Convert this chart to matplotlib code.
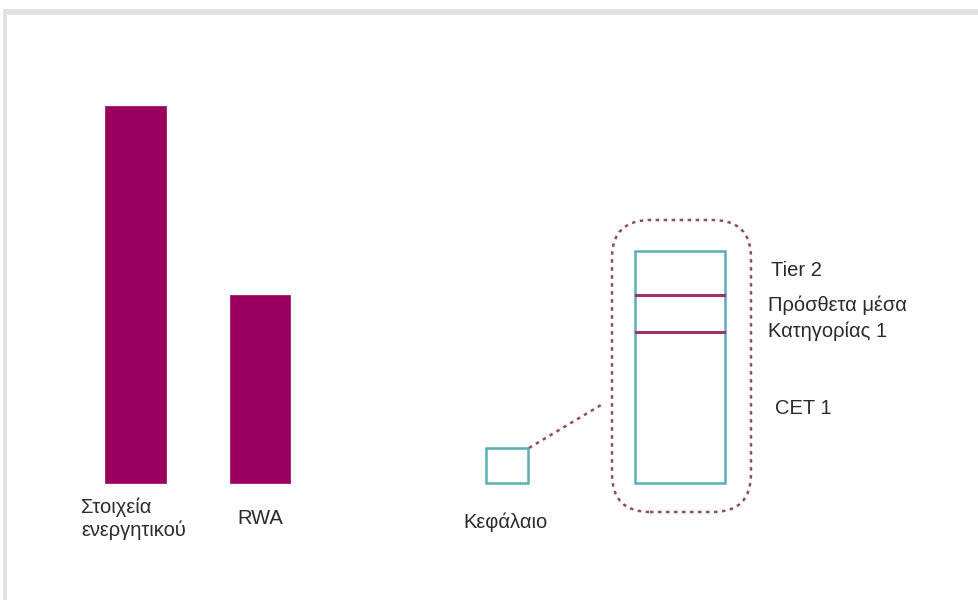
import matplotlib
matplotlib.use("Agg")
import matplotlib.pyplot as plt
from matplotlib.patches import Rectangle, FancyBboxPatch

plt.rcParams['font.family'] = ['Liberation Sans', 'DejaVu Sans']

# ---- data ----
bar_labels = ["Στοιχεία\nενεργητικού", "RWA"]
bar_values = [100, 50]
capital_label = "Κεφάλαιο"
capital_value = 9.3
stack_labels = ["CET 1", "Πρόσθετα μέσα\nΚατηγορίας 1", "Tier 2"]
stack_values = [40, 10, 11.5]

# ---- styling ----
BAR_C = "#9b0061"
BOX_C = "#5aaeb5"
LINE_C = "#a0306e"
DASH_C = "#8c4a72"
TXT_C = "#2a2a2a"
FS = 14.5

W, H = 979, 600
S = 3.77            # pixels per value unit
BASE = 483          # baseline pixel row

def px(x):
    return x / S

def py(y):
    return (BASE - y) / S

fig = plt.figure(figsize=(W / 100, H / 100), dpi=100)
fig.patch.set_facecolor("white")
ax = fig.add_axes([0, 0, 1, 1])
ax.set_xlim(0, px(W))
ax.set_ylim(py(H), py(0))
ax.set_aspect("equal")
ax.axis("off")

# frame bands
ax.add_patch(Rectangle((px(3), py(15)), px(W) - px(3), py(9) - py(15), color="#e2e2e2", lw=0))
ax.add_patch(Rectangle((px(3), py(H)), px(7) - px(3), py(15) - py(H), color="#e2e2e2", lw=0))

# bars
bar_x = [px(135.5), px(260.5)]
ax.bar(bar_x, bar_values, width=px(60), bottom=0, color=BAR_C, edgecolor=BAR_C, lw=0.5)
first = bar_labels[0].split("\n")
ax.text(px(81), py(507), first[0], ha="left", va="center", fontsize=FS, color=TXT_C)
ax.text(px(81), py(530), first[1], ha="left", va="center", fontsize=FS, color=TXT_C)
ax.text(px(237), py(519), bar_labels[1], ha="left", va="center", fontsize=FS, color=TXT_C)

# capital small box
ax.bar([px(507)], [capital_value], width=px(42), bottom=0, facecolor="white",
       edgecolor=BOX_C, lw=1.8)
ax.text(px(463), py(522), capital_label, ha="left", va="center", fontsize=FS, color=TXT_C)

# connector
ax.plot([px(529), px(601)], [capital_value, py(405)], color=DASH_C, lw=1.8,
        ls=(0, (1.4, 1.8)))

# big stacked box
bx = px(680)
bw = px(90)
bottom = 0
tops = []
for v in stack_values:
    bottom += v
    tops.append(bottom)
total = sum(stack_values)
ax.bar([bx], [total], width=bw, bottom=0, facecolor="white", edgecolor=BOX_C, lw=1.8, zorder=3)
for t in tops[:-1]:
    ax.plot([bx - bw / 2 + 0.3, bx + bw / 2 - 0.3], [t, t], color=LINE_C, lw=2.2, zorder=4)

# dashed rounded boundary
ax.add_patch(FancyBboxPatch((px(612), py(512)), px(751) - px(612), py(220) - py(512),
                            boxstyle="round,pad=0,rounding_size=%f" % px(38),
                            fill=False, edgecolor=DASH_C, lw=1.8, ls=(0, (1.4, 1.8)), zorder=2))

# stack labels
mid = stack_labels[1].split("\n")
ax.text(px(771), py(270), stack_labels[2], ha="left", va="center", fontsize=FS, color=TXT_C)
ax.text(px(768), py(305), mid[0], ha="left", va="center", fontsize=FS, color=TXT_C)
ax.text(px(768), py(331), mid[1], ha="left", va="center", fontsize=FS, color=TXT_C)
ax.text(px(775), py(408), stack_labels[0], ha="left", va="center", fontsize=FS, color=TXT_C)

fig.savefig("out.png", dpi=100, facecolor="white")
